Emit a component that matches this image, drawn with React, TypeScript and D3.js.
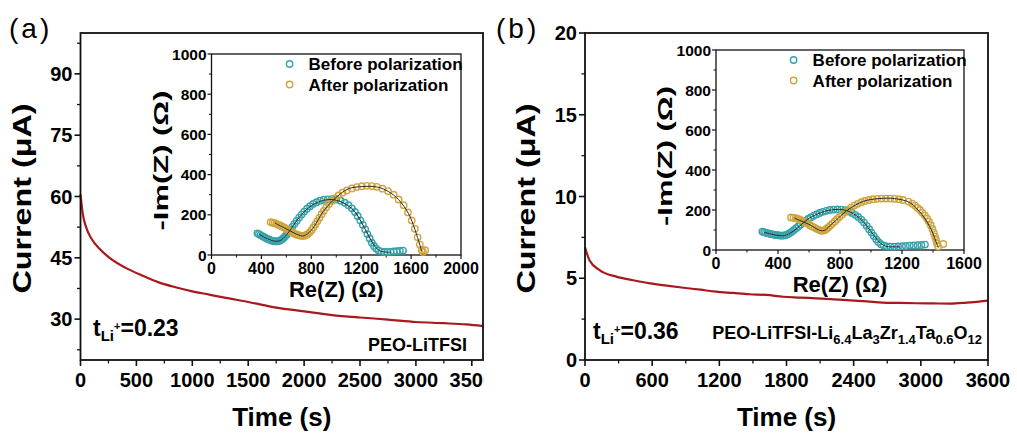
import React from 'react';
import * as d3 from 'd3';

// Chronoamperometry, panel (a): PEO-LiTFSI
const timeA = [0, 20, 50, 100, 170, 260, 400, 550, 700, 850, 1000, 1150, 1300, 1500, 1750, 2000, 2250, 2500, 2750, 3000, 3250, 3450, 3600];
const currentA = [60.5, 55.8, 52.5, 49.6, 47.2, 45.0, 42.6, 40.7, 39.0, 37.8, 36.8, 36.0, 35.2, 34.2, 32.8, 31.9, 31.0, 30.4, 29.9, 29.3, 29.0, 28.7, 28.3];

// Chronoamperometry, panel (b): PEO-LiTFSI-LLZTO
const timeB = [0, 40, 130, 280, 430, 580, 730, 880, 1030, 1170, 1320, 1470, 1620, 1770, 1920, 2070, 2220, 2370, 2520, 2660, 2810, 2960, 3110, 3260, 3410, 3520, 3600];
const currentB = [6.9, 6.1, 5.5, 5.1, 4.88, 4.69, 4.55, 4.42, 4.3, 4.18, 4.1, 4.02, 3.98, 3.87, 3.82, 3.77, 3.71, 3.65, 3.58, 3.51, 3.49, 3.47, 3.46, 3.45, 3.51, 3.57, 3.63];

// Axis ticks
const xTicksA = [0, 500, 1000, 1500, 2000, 2500, 3000, 3500];
const xMinorA = [250, 750, 1250, 1750, 2250, 2750, 3250];
const yTicksA = [30, 45, 60, 75, 90];
const yMinorA = [22.5, 37.5, 52.5, 67.5, 82.5, 97.5];
const xTicksB = [0, 600, 1200, 1800, 2400, 3000, 3600];
const xMinorB = [300, 900, 1500, 2100, 2700, 3300];
const yTicksB = [0, 5, 10, 15, 20];
const yMinorB = [2.5, 7.5, 12.5, 17.5];

const insetYTicks = [0, 200, 400, 600, 800, 1000];
const insetYMinor = [100, 300, 500, 700, 900];
const insetXTicksA = [0, 400, 800, 1200, 1600, 2000];
const insetXMinorA = [200, 600, 1000, 1400, 1800];
const insetXTicksB = [0, 400, 800, 1200, 1600];
const insetXMinorB = [200, 600, 1000, 1400];

// Nyquist data, inset (a): [Re(Z), -Im(Z)]
const beforeA: [number, number][] = [
  [368, 108], [380, 104], [393, 99], [407, 94], [420, 90], [435, 85], [450, 80], [465, 76], [480, 72], [495, 70],
  [510, 68], [525, 68], [540, 70], [553, 73], [565, 78], [578, 85], [590, 93], [603, 102], [617, 113], [632, 125],
  [648, 140], [665, 155], [683, 170], [702, 186], [722, 201], [743, 216], [766, 230], [790, 243], [815, 254], [842, 263],
  [870, 270], [900, 275], [932, 277], [965, 278], [1000, 276], [1035, 270], [1068, 260], [1098, 248], [1125, 232], [1150, 214],
  [1172, 194], [1193, 172], [1213, 150], [1232, 127], [1250, 104], [1268, 82], [1285, 62], [1302, 45], [1320, 32], [1340, 22],
  [1362, 17], [1385, 15], [1410, 15], [1435, 16], [1460, 18], [1485, 19], [1510, 21], [1535, 22],
];
const afterA: [number, number][] = [
  [474, 164], [490, 161], [505, 158], [520, 155], [535, 151], [550, 147], [565, 142], [580, 137], [595, 132], [610, 126],
  [625, 120], [640, 115], [655, 110], [670, 105], [685, 101], [700, 98], [715, 96], [730, 95], [745, 96], [758, 99],
  [772, 105], [787, 113], [802, 124], [817, 137], [832, 152], [848, 168], [865, 185], [882, 203], [900, 220], [920, 238],
  [942, 254], [965, 269], [990, 283], [1018, 296], [1050, 310], [1085, 321], [1125, 331], [1165, 338], [1205, 342], [1245, 344],
  [1285, 343], [1325, 339], [1370, 330], [1415, 318], [1460, 300], [1500, 276], [1540, 248], [1575, 212], [1605, 172], [1630, 130],
  [1652, 88], [1670, 52], [1685, 25], [1695, 15], [1712, 24],
];
const fitBeforeA: [number, number][] = [
  [380, 104], [450, 80], [520, 68], [560, 75], [620, 115], [700, 185], [800, 245], [900, 272], [980, 275], [1060, 258],
  [1140, 222], [1200, 165], [1260, 95], [1320, 35], [1360, 18], [1420, 14], [1440, 14],
];
const fitAfterA: [number, number][] = [
  [505, 160], [600, 130], [700, 99], [740, 95], [800, 123], [900, 220], [1000, 287], [1100, 330], [1200, 340], [1330, 338],
  [1420, 315], [1500, 275], [1580, 205], [1630, 128], [1670, 50], [1685, 18],
];

// Nyquist data, inset (b)
const beforeB: [number, number][] = [
  [299, 92], [310, 89], [322, 86], [334, 84], [346, 81], [358, 79], [370, 77], [382, 75], [394, 74], [406, 73],
  [418, 72], [430, 72], [442, 73], [454, 76], [466, 80], [478, 86], [490, 92], [503, 100], [517, 109], [531, 118],
  [546, 128], [561, 137], [577, 146], [594, 155], [611, 163], [629, 171], [648, 178], [668, 185], [689, 191], [711, 196],
  [734, 200], [758, 202], [783, 203], [808, 202], [832, 199], [855, 193], [877, 185], [898, 176], [918, 165], [937, 152],
  [955, 137], [972, 121], [988, 104], [1003, 87], [1018, 70], [1033, 54], [1048, 40], [1064, 29], [1082, 22], [1102, 18],
  [1125, 17], [1150, 17], [1175, 18], [1200, 19], [1225, 20], [1250, 22], [1275, 23], [1300, 24], [1325, 25], [1348, 27],
];
const afterB: [number, number][] = [
  [484, 163], [500, 161], [515, 159], [530, 155], [545, 150], [560, 144], [575, 138], [590, 132], [605, 125], [620, 118],
  [635, 112], [650, 106], [664, 101], [676, 97], [688, 96], [700, 99], [712, 105], [724, 113], [737, 122], [751, 132],
  [766, 143], [781, 154], [797, 166], [814, 178], [832, 190], [851, 201], [871, 212], [892, 222], [914, 231], [937, 239],
  [961, 245], [986, 250], [1012, 254], [1040, 256], [1068, 257], [1096, 257], [1124, 257], [1152, 256], [1180, 254], [1206, 250],
  [1241, 242], [1265, 232], [1284, 222], [1300, 211], [1316, 200], [1332, 186], [1348, 172], [1362, 157], [1374, 142], [1386, 124],
  [1396, 105], [1405, 86], [1413, 67], [1420, 50], [1426, 33], [1434, 17], [1466, 30],
];
const fitBeforeB: [number, number][] = [
  [310, 88], [400, 73], [440, 72], [500, 95], [600, 158], [700, 193], [790, 203], [860, 192], [940, 150], [1000, 92],
  [1060, 35], [1100, 18], [1150, 16], [1190, 16],
];
const fitAfterB: [number, number][] = [
  [505, 160], [600, 128], [688, 96], [750, 132], [850, 200], [950, 243], [1050, 257], [1150, 257], [1250, 237], [1330, 176],
  [1390, 100], [1425, 30], [1435, 12],
];

const legendLabels = ['Before polarization', 'After polarization'];

const FONT = '"Liberation Sans", Arial, Helvetica, sans-serif';
const RED = '#a8191c';
const TEAL = '#35a3ab';
const GOLD = '#cfa43a';
const FIT = '#2a2a2a';

type Pt = [number, number];

interface InsetProps {
  left: number; right: number; top: number; bottom: number;
  xMax: number; xTicks: number[]; xMinor: number[];
  before: Pt[]; after: Pt[]; fitBefore: Pt[]; fitAfter: Pt[];
}

function Inset(p: InsetProps) {
  const x = d3.scaleLinear().domain([0, p.xMax]).range([p.left, p.right]);
  const y = d3.scaleLinear().domain([0, 1000]).range([p.bottom, p.top]);
  const fitLine = d3.line<Pt>().x(d => x(d[0])).y(d => y(d[1])).curve(d3.curveCatmullRom.alpha(0.5));
  const cx = (p.left + p.right) / 2;
  const legX = x(p.xMax * 0.313);
  return (
    <g fontFamily={FONT} fontWeight="bold">
      <rect x={p.left} y={p.top} width={p.right - p.left} height={p.bottom - p.top} fill="none" stroke="#111" strokeWidth={1.3} />
      {p.xTicks.map(t => (
        <g key={'xt' + t}>
          <line x1={x(t)} x2={x(t)} y1={p.bottom} y2={p.bottom + 4} stroke="#111" strokeWidth={1.2} />
          <text x={x(t)} y={p.bottom + 19} textAnchor="middle" fontSize={16}>{t}</text>
        </g>
      ))}
      {p.xMinor.map(t => (
        <line key={'xm' + t} x1={x(t)} x2={x(t)} y1={p.bottom} y2={p.bottom + 2.5} stroke="#111" strokeWidth={1} />
      ))}
      {insetYTicks.map(t => (
        <g key={'yt' + t}>
          <line x1={p.left - 4} x2={p.left} y1={y(t)} y2={y(t)} stroke="#111" strokeWidth={1.2} />
          <text x={p.left - 5} y={y(t) + 5.5} textAnchor="end" fontSize={15.5}>{t}</text>
        </g>
      ))}
      {insetYMinor.map(t => (
        <line key={'ym' + t} x1={p.left - 2.5} x2={p.left} y1={y(t)} y2={y(t)} stroke="#111" strokeWidth={1} />
      ))}
      <text x={cx} y={p.bottom + 42} textAnchor="middle" fontSize={22}>Re(Z) (Ω)</text>
      <text transform={`translate(${p.left - 44},${(p.top + p.bottom) / 2 + 6}) rotate(-90)`} textAnchor="middle" fontSize={21}
        textLength={140} lengthAdjust="spacingAndGlyphs">-Im(Z) (Ω)</text>
      {p.before.map((d, i) => (
        <circle key={'b' + i} cx={x(d[0])} cy={y(d[1])} r={3.2} fill="none" stroke={TEAL} strokeWidth={1.4} />
      ))}
      {p.after.map((d, i) => (
        <circle key={'a' + i} cx={x(d[0])} cy={y(d[1])} r={3.2} fill="none" stroke={GOLD} strokeWidth={1.4} />
      ))}
      <path d={fitLine(p.fitBefore) || ''} fill="none" stroke={FIT} strokeWidth={1} />
      <path d={fitLine(p.fitAfter) || ''} fill="none" stroke={FIT} strokeWidth={1} />
      {legendLabels.map((lab, i) => (
        <g key={lab}>
          <circle cx={legX} cy={p.top + 10 + i * 20.5} r={3.2} fill="none" stroke={i === 0 ? TEAL : GOLD} strokeWidth={1.4} />
          <text x={legX + 19} y={p.top + 16 + i * 20.5} fontSize={17}>{lab}</text>
        </g>
      ))}
    </g>
  );
}

interface PanelProps {
  left: number; right: number; top: number; bottom: number;
  yDomain: [number, number];
  xTicks: number[]; xMinor: number[]; yTicks: number[]; yMinor: number[];
  time: number[]; current: number[];
  clipId: string; clipRight: number;
}

function Panel(p: PanelProps) {
  const x = d3.scaleLinear().domain([0, 3600]).range([p.left, p.right]);
  const y = d3.scaleLinear().domain(p.yDomain).range([p.bottom, p.top]);
  const pts: Pt[] = p.time.map((t, i) => [t, p.current[i]]);
  const line = d3.line<Pt>().x(d => x(d[0])).y(d => y(d[1])).curve(d3.curveMonotoneX);
  const cx = (p.left + p.right) / 2;
  const cy = (p.top + p.bottom) / 2;
  return (
    <g fontFamily={FONT}>
      <defs>
        <clipPath id={p.clipId}>
          <rect x={p.left - 60} y={0} width={p.clipRight - (p.left - 60)} height={436} />
        </clipPath>
      </defs>
      <path d={line(pts) || ''} fill="none" stroke={RED} strokeWidth={2.2} />
      <rect x={p.left} y={p.top} width={p.right - p.left} height={p.bottom - p.top} fill="none" stroke="#111" strokeWidth={1.8} />
      <g fontWeight="bold" clipPath={`url(#${p.clipId})`}>
        {p.xTicks.map(t => (
          <g key={'xt' + t}>
            <line x1={x(t)} x2={x(t)} y1={p.bottom} y2={p.bottom + 6} stroke="#111" strokeWidth={1.6} />
            <text x={x(t)} y={p.bottom + 27} textAnchor="middle" fontSize={20}>{t}</text>
          </g>
        ))}
      </g>
      {p.xMinor.map(t => (
        <line key={'xm' + t} x1={x(t)} x2={x(t)} y1={p.bottom} y2={p.bottom + 3.5} stroke="#111" strokeWidth={1.3} />
      ))}
      <g fontWeight="bold">
        {p.yTicks.map(t => (
          <g key={'yt' + t}>
            <line x1={p.left - 6} x2={p.left} y1={y(t)} y2={y(t)} stroke="#111" strokeWidth={1.6} />
            <text x={p.left - 8} y={y(t) + 7} textAnchor="end" fontSize={20}>{t}</text>
          </g>
        ))}
      </g>
      {p.yMinor.map(t => (
        <line key={'ym' + t} x1={p.left - 3.5} x2={p.left} y1={y(t)} y2={y(t)} stroke="#111" strokeWidth={1.3} />
      ))}
      <text x={cx} y={p.bottom + 66} textAnchor="middle" fontSize={26} fontWeight="bold">Time (s)</text>
      <text transform={`translate(${p.left - 50},${cy + 2}) rotate(-90)`} textAnchor="middle" fontSize={26} fontWeight="bold"
        textLength={190} lengthAdjust="spacingAndGlyphs">Current (μA)</text>
    </g>
  );
}

function PanelLabel({ x, text }: { x: number; text: string }) {
  return (
    <text x={x} y={38} fontSize={28} fontFamily={FONT} letterSpacing={3}>{text}</text>
  );
}

export default function App() {
  return (
    <svg width={1017} height={436} viewBox="0 0 1017 436" style={{ position: 'absolute', left: 0, top: 0, background: '#fff' }}>
      <rect width={1017} height={436} fill="#fff" />
      <Panel left={80.5} right={483} top={33} bottom={360} yDomain={[20, 100]}
        xTicks={xTicksA} xMinor={xMinorA} yTicks={yTicksA} yMinor={yMinorA}
        time={timeA} current={currentA} clipId="clipA" clipRight={483.5} />
      <Panel left={585} right={988} top={33} bottom={360} yDomain={[0, 20]}
        xTicks={xTicksB} xMinor={xMinorB} yTicks={yTicksB} yMinor={yMinorB}
        time={timeB} current={currentB} clipId="clipB" clipRight={1017} />
      <PanelLabel x={9} text="(a)" />
      <PanelLabel x={496} text="(b)" />
      <Inset left={211.5} right={461} top={54} bottom={255} xMax={2000}
        xTicks={insetXTicksA} xMinor={insetXMinorA}
        before={beforeA} after={afterA} fitBefore={fitBeforeA} fitAfter={fitAfterA} />
      <Inset left={716} right={964} top={50} bottom={250} xMax={1600}
        xTicks={insetXTicksB} xMinor={insetXMinorB}
        before={beforeB} after={afterB} fitBefore={fitBeforeB} fitAfter={fitAfterB} />
      <g fontFamily={FONT} fontWeight="bold">
        <text x={93} y={336} fontSize={23}>
          t<tspan fontSize={15} dy={5}>Li</tspan><tspan fontSize={11} dy={-11}>+</tspan><tspan fontSize={23} dy={6}>=0.23</tspan>
        </text>
        <text x={467} y={351} textAnchor="end" fontSize={18}>PEO-LiTFSI</text>
        <text x={593} y={339} fontSize={23}>
          t<tspan fontSize={15} dy={5}>Li</tspan><tspan fontSize={11} dy={-11}>+</tspan><tspan fontSize={23} dy={6}>=0.36</tspan>
        </text>
        <text x={982} y={339} textAnchor="end" fontSize={18}>
          PEO-LiTFSI-Li<tspan fontSize={13} dy={5}>6.4</tspan>
          <tspan dy={-5}>La</tspan><tspan fontSize={13} dy={5}>3</tspan>
          <tspan dy={-5}>Zr</tspan><tspan fontSize={13} dy={5}>1.4</tspan>
          <tspan dy={-5}>Ta</tspan><tspan fontSize={13} dy={5}>0.6</tspan>
          <tspan dy={-5}>O</tspan><tspan fontSize={13} dy={5}>12</tspan>
        </text>
      </g>
    </svg>
  );
}
